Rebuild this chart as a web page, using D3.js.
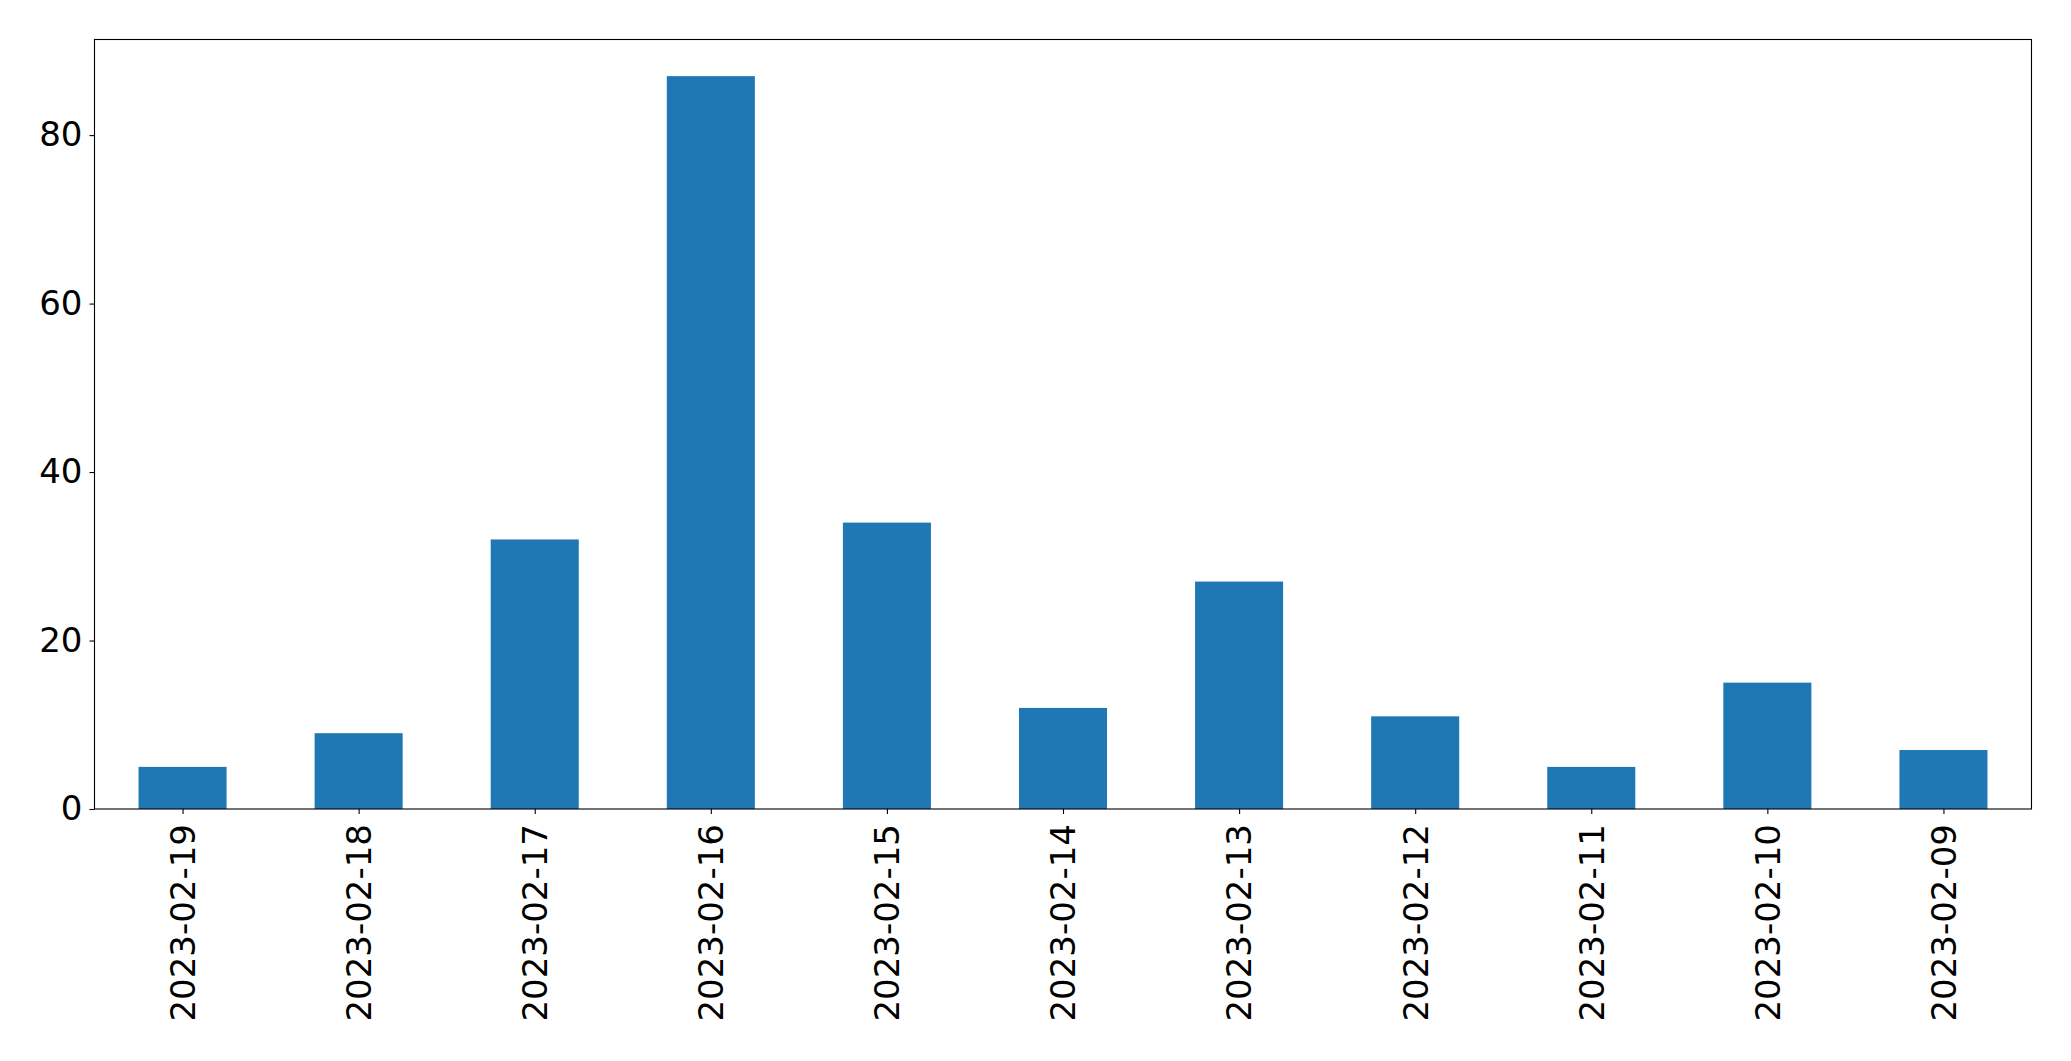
<!DOCTYPE html>
<html>
<head>
<meta charset="utf-8">
<script src="https://cdn.jsdelivr.net/npm/d3@7"></script>
<style>
  html, body { margin: 0; padding: 0; background: #fff; }
  svg { display: block; }
  text { font-family: "DejaVu Sans", sans-serif; fill: #000; }
</style>
</head>
<body>
<svg id="chart" width="2071" height="1061"></svg>
<script>
const categories = ["2023-02-19","2023-02-18","2023-02-17","2023-02-16","2023-02-15","2023-02-14","2023-02-13","2023-02-12","2023-02-11","2023-02-10","2023-02-09"];
const values = [5, 9, 32, 87, 34, 12, 27, 11, 5, 15, 7];
const yTicks = [0, 20, 40, 60, 80];

const W = 2071, H = 1061;
const margin = { left: 94.5, right: W - 2031.5, top: 39.5, bottom: H - 809 };
const iw = W - margin.left - margin.right;
const ih = H - margin.top - margin.bottom;

const svg = d3.select("#chart");
const g = svg.append("g").attr("transform", `translate(${margin.left},${margin.top})`);

// x: positions -0.5..10.5 like matplotlib bar plot
const x = d3.scaleLinear().domain([-0.5, categories.length - 0.5]).range([0, iw]);
const y = d3.scaleLinear().domain([0, d3.max(values) * 1.05]).range([ih, 0]);
const barW = 0.5;

g.selectAll("rect.bar").data(values).enter().append("rect")
  .attr("class", "bar")
  .attr("x", (d, i) => x(i - barW / 2))
  .attr("width", (d, i) => x(i + barW / 2) - x(i - barW / 2))
  .attr("y", d => y(d))
  .attr("height", d => y(0) - y(d))
  .attr("fill", "#1f77b4");

// frame
g.append("rect").attr("x", 0).attr("y", 0).attr("width", iw).attr("height", ih)
  .attr("fill", "none").attr("stroke", "#000").attr("stroke-width", 1.1);

// y axis
const yAxis = d3.axisLeft(y).tickValues(yTicks).tickSize(5).tickPadding(7).tickFormat(d3.format("d"));
const ya = g.append("g").call(yAxis);
ya.select(".domain").remove();
ya.selectAll("line").attr("stroke", "#000").attr("stroke-width", 1.1);
ya.selectAll("text").style("font-size", "34px").attr("font-family", "DejaVu Sans");

// x axis
const xAxis = d3.axisBottom(x).tickValues(d3.range(categories.length)).tickSize(5).tickFormat(i => categories[i]);
const xa = g.append("g").attr("transform", `translate(0,${ih})`).call(xAxis);
xa.select(".domain").remove();
xa.selectAll("line").attr("stroke", "#000").attr("stroke-width", 1.1);
xa.selectAll("text")
  .style("font-size", "34px")
  .attr("font-family", "DejaVu Sans")
  .attr("text-anchor", "end")
  .attr("dy", "0.35em")
  .attr("x", 0)
  .attr("y", 0)
  .attr("transform", "translate(0,15) rotate(-90)");
</script>
</body>
</html>
